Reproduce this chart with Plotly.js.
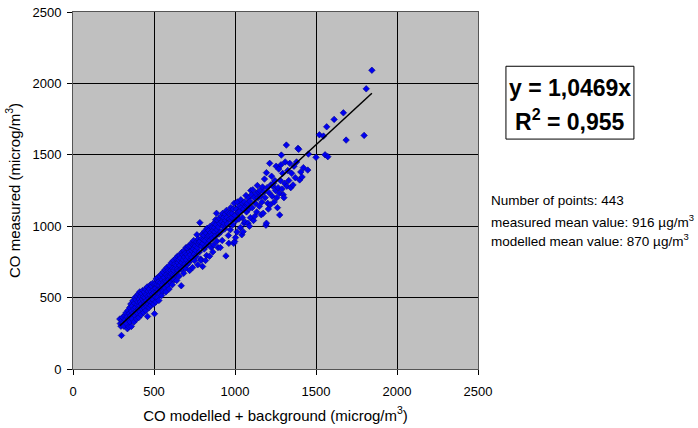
<!DOCTYPE html>
<html>
<head>
<meta charset="utf-8">
<script src="https://cdn.plot.ly/plotly-3.0.1.min.js"></script>
<style>html,body{margin:0;padding:0;background:#fff;}#chart{width:698px;height:428px;}</style>
</head>
<body>
<div id="chart"></div>
<script>
// Points: [modelled + background, measured] in microg/m3
const pointsLow = [[289,350],[292,318],[296,300],[299,235],[302,340],[306,362],[310,325],[314,300],[318,372],[322,345],[326,392],[330,318],[333,365],[336,282],[339,410],[342,350],[345,296],[348,388],[350,430],[352,330],[355,372],[357,455],[360,298],[362,405],[365,440],[367,350],[370,478],[372,390],[375,420],[377,330],[380,460],[382,500],[384,372],[386,430],[388,485],[390,405],[392,350],[394,510],[396,450],[398,390],[400,470],[402,525],[404,420],[406,360],[408,490],[410,445],[412,540],[414,400],[416,470],[418,510],[420,380],[422,455],[424,530],[426,420],[428,490],[430,550],[432,440],[434,505],[436,395],[438,470],[440,540],[442,425],[444,500],[446,460],[448,560],[450,410],[452,520],[454,480],[456,440],[458,575],[460,368],[462,510],[464,545],[466,455],[468,495],[470,430],[472,560],[474,520],[476,470],[478,590],[480,445],[482,540],[484,500],[486,580],[488,465],[490,525],[492,600],[494,485],[496,555],[498,455],[500,535],[503,387],[505,595],[507,505],[509,565],[511,470],[513,630],[515,540]];
const pointsMid1 = [[518,590],[520,500],[522,640],[525,555],[527,610],[530,480],[532,585],[535,650],[537,530],[540,605],[542,565],[545,665],[547,515],[550,625],[552,590],[555,545],[557,680],[560,610],[563,640],[565,570],[568,695],[570,615],[573,540],[575,660],[578,610],[580,710],[583,585],[585,650],[588,690],[590,625],[593,560],[595,725],[598,650],[600,610],[603,690],[605,665],[608,745],[610,630],[613,590],[615,705],[618,660],[620,760],[623,690],[625,625],[628,735],[630,705],[633,660],[635,775],[638,725],[640,620],[643,700],[645,790],[648,745],[650,690],[653,765],[655,650],[658,795],[660,725],[663,775],[665,700],[668,583],[670,815],[672,745],[675,705],[678,800],[680,765],[683,670],[685,830],[688,785],[690,735],[693,810],[695,705],[698,850],[700,765]];
const pointsMid2 = [[703,800],[705,730],[708,845],[710,785],[713,860],[715,745],[718,820],[720,690],[723,865],[725,800],[728,765],[730,880],[733,830],[735,780],[738,710],[740,870],[743,840],[745,900],[748,805],[750,760],[753,870],[755,860],[758,830],[760,790],[763,890],[765,940],[768,850],[770,730],[773,910],[775,875],[778,890],[780,820],[783,1025],[785,895],[788,770],[790,760],[793,860],[795,915],[798,945],[800,718],[802,880],[805,905],[808,935],[810,840],[813,965],[815,900],[818,760],[820,860],[823,950],[825,795],[828,985],[830,915],[833,930],[835,880],[838,970],[840,935],[843,790],[845,900],[848,1000],[850,955],[853,850],[855,935],[858,990],[860,915],[863,820],[865,970],[868,870],[870,1020],[873,990],[875,960],[878,930],[880,1045],[883,1010],[886,1090],[888,895],[890,975],[893,1040],[895,850],[898,995],[900,945]];
const pointsMid3 = [[903,1055],[906,1020],[909,850],[912,960],[915,1070],[918,1030],[921,900],[924,1090],[927,1000],[930,1060],[933,1020],[936,980],[939,1085],[942,1040],[944,792],[947,1110],[950,1060],[953,1015],[956,1095],[959,935],[962,880],[965,1050],[968,1090],[971,975],[974,1130],[977,1040],[980,1060],[983,1090],[986,1010],[989,1120],[992,880],[995,1160],[998,892],[1000,1075],[1003,920],[1006,1040],[1009,1120],[1012,960],[1015,1170],[1018,1095],[1021,1100],[1024,1050],[1027,1140],[1030,1105],[1033,990],[1036,1185],[1039,1130],[1042,940],[1045,1060],[1048,1160],[1050,962],[1053,1120],[1056,1020],[1059,1170],[1062,1030],[1065,1140],[1068,1215],[1071,1100],[1074,1150],[1077,1160],[1080,1020],[1083,1195],[1086,1120],[1089,1000],[1092,1175],[1095,1060],[1098,1250]];
const pointsHigh = [[1102,1220],[1106,1130],[1110,1255],[1114,1040],[1118,1200],[1122,1070],[1126,1160],[1130,1230],[1134,1100],[1138,1285],[1142,1200],[1146,1240],[1150,1140],[1154,1250],[1158,1210],[1162,1080],[1166,1170],[1170,1275],[1174,1090],[1178,1240],[1182,1330],[1186,1200],[1191,1007],[1194,1375],[1194,1021],[1198,1270],[1202,1160],[1206,1120],[1210,1235],[1214,1440],[1218,1150],[1222,1290],[1226,1350],[1230,1210],[1234,1280],[1238,1300],[1242,1170],[1246,1320],[1250,1250],[1254,1420],[1258,1200],[1262,1130],[1266,1270],[1270,1400],[1274,1230],[1276,1079],[1280,1320],[1284,1430],[1286,1498],[1290,1260],[1294,1370],[1298,1220],[1302,1200],[1306,1300],[1310,1450],[1317,1568],[1320,1280],[1326,1390],[1332,1320],[1338,1440],[1344,1270],[1350,1370],[1358,1289],[1364,1420],[1372,1340],[1380,1450],[1389,1545],[1393,1538],[1399,1324],[1406,1380],[1414,1345],[1422,1410],[1449,1393],[1453,1505]];
const pointsTop = [[1500,1482],[1521,1640],[1546,1631],[1556,1500],[1566,1696],[1573,1487],[1612,1748],[1669,1794],[1686,1603],[1797,1636],[1810,1962],[1845,2092]];

const trendSlope = 1.0469;
const axisTicks = [0, 500, 1000, 1500, 2000, 2500];
const equationLines = ['y = 1,0469x', 'R<sup>2</sup> = 0,955'];
const statsLines = ['Number of points: 443', 'measured mean value: 916 µg/m<sup>3</sup>', 'modelled mean value: 870 µg/m<sup>3</sup>'];

const allPoints = [].concat(pointsLow, pointsMid1, pointsMid2, pointsMid3, pointsHigh, pointsTop);
const xs = allPoints.map(p => p[0]);
const ys = allPoints.map(p => p[1]);
const xMin = Math.min.apply(null, xs), xMax = Math.max.apply(null, xs);

const FONT = 'Liberation Sans, Arial, sans-serif';

const traces = [
  {
    type: 'scatter', mode: 'markers', x: xs, y: ys,
    marker: {symbol: 'diamond', size: 5, color: '#0000f0', line: {color: '#00008b', width: 0.6}},
    hoverinfo: 'skip', showlegend: false
  },
  {
    type: 'scatter', mode: 'lines', x: [xMin, xMax], y: [trendSlope * xMin, trendSlope * xMax],
    line: {color: '#000000', width: 1.5}, hoverinfo: 'skip', showlegend: false
  }
];

const eqY = [0.787, 0.698];
const statsY = [0.4715, 0.4155, 0.3616];
const annotations = equationLines.map((t, i) => ({
  xref: 'paper', yref: 'paper', x: 1.227, y: eqY[i], xanchor: 'center', yanchor: 'middle',
  text: t, showarrow: false, align: 'center',
  font: {family: FONT, size: 23, color: '#000', weight: 'bold'}
})).concat(statsLines.map((t, i) => ({
  xref: 'paper', yref: 'paper', x: 1.027, y: statsY[i], xanchor: 'left', yanchor: 'middle',
  text: t, showarrow: false, align: 'left', font: {family: FONT, size: 13.5, color: '#000'}
})));

const shapes = [{
  type: 'rect', xref: 'paper', yref: 'paper', x0: 1.069, x1: 1.385, y0: 0.644, y1: 0.848,
  line: {color: '#000', width: 1}, fillcolor: '#fff', layer: 'below'
}];

const axisCommon = {
  range: [0, 2500], tickvals: axisTicks, ticktext: axisTicks.map(String),
  showgrid: true, gridcolor: '#000000', gridwidth: 1,
  zeroline: false, showline: true, linecolor: '#555555', linewidth: 1, mirror: true,
  ticks: 'outside', ticklen: 5, tickcolor: '#000', tickwidth: 1,
  tickfont: {family: FONT, size: 13, color: '#000'}
};

const layout = {
  width: 698, height: 428,
  margin: {l: 73, r: 220, t: 12, b: 59, pad: 0},
  paper_bgcolor: '#ffffff', plot_bgcolor: '#c0c0c0',
  font: {family: FONT, color: '#000'},
  xaxis: Object.assign({}, axisCommon, {
    ticklabelstandoff: 5,
    title: {text: 'CO modelled + background (microg/m<sup>3</sup>)', font: {family: FONT, size: 15, color: '#000'}, standoff: 12}
  }),
  yaxis: Object.assign({}, axisCommon, {
    ticklabelstandoff: 3,
    title: {text: 'CO measured (microg/m<sup>3</sup>)', font: {family: FONT, size: 15, color: '#000'}, standoff: 8}
  }),
  shapes: shapes,
  annotations: annotations,
  showlegend: false
};

Plotly.newPlot('chart', traces, layout, {displayModeBar: false, staticPlot: true});
</script>
</body>
</html>
